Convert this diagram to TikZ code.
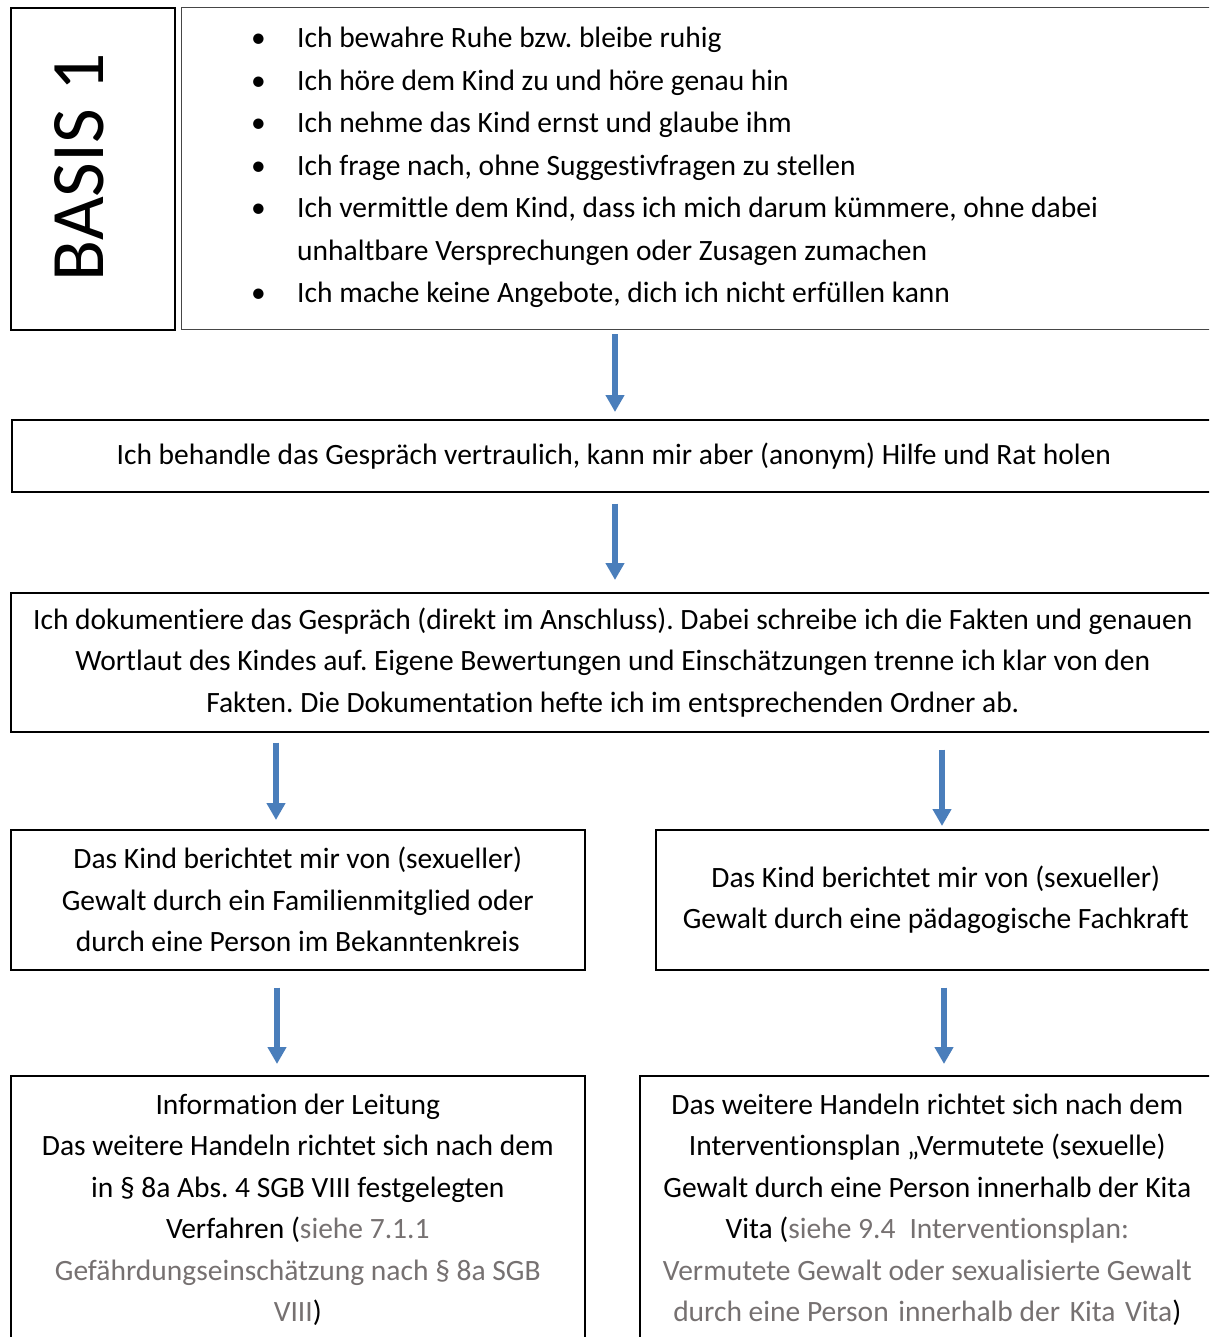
\documentclass[tikz,border=0pt]{standalone}
\usepackage{fontspec}
\setmainfont[RawFeature=-liga]{Carlito}
\usetikzlibrary{arrows.meta}
\definecolor{arrblue}{RGB}{74,126,187}
\definecolor{refgray}{RGB}{118,113,113}
\definecolor{bordgray}{RGB}{70,70,70}
\newcommand{\mainfs}{\fontsize{29.5}{41.5}\selectfont\frenchspacing}
\newcommand{\rg}[1]{\textcolor{refgray}{#1}}
\newcommand{\bl}{\makebox[46pt][l]{•}}
\begin{document}
\begin{tikzpicture}[x=1pt,y=-1pt,
  box/.style={draw=black, line width=1.6pt, inner sep=0pt, anchor=north west, align=center, font=\mainfs},
  arr/.style={draw=arrblue, line width=6pt, -{Triangle[width=18pt,length=17pt]}},
  txt/.style={inner sep=0pt, font=\mainfs}]
\clip (0,0) rectangle (1209,1337);
\fill[white] (0,0) rectangle (1209,1337);
% boxes
\node[box, minimum width=164pt, minimum height=322pt] (basis) at (10,7) {};
\node[txt, rotate=90, anchor=base, font=\fontsize{75.5}{80}\selectfont] (basistxt) at (103,167.5) {BASIS 1};
\node[box, draw=bordgray, line width=1.3pt, minimum width=1034pt, minimum height=322pt] (bul) at (181,7) {};
\node[txt, anchor=north west, align=left, font=\fontsize{29.5}{42.5}\selectfont\frenchspacing] (bultxt) at (251,27) {%
\bl Ich bewahre Ruhe bzw. bleibe ruhig\\
\bl Ich höre dem Kind zu und höre genau hin\\
\bl Ich nehme das Kind ernst und glaube ihm\\
\bl Ich frage nach, ohne Suggestivfragen zu stellen\\
\bl Ich vermittle dem Kind, dass ich mich darum kümmere, ohne dabei\\
\hspace*{46pt}unhaltbare Versprechungen oder Zusagen zumachen\\
\bl Ich mache keine Angebote, dich ich nicht erfüllen kann};
\node[box, minimum width=1204pt, minimum height=72pt] (b2) at (11,419) {Ich behandle das Gespräch vertraulich, kann mir aber (anonym) Hilfe und Rat holen};
\node[box, minimum width=1204pt, minimum height=139pt] (b3) at (10,592) {Ich dokumentiere das Gespräch (direkt im Anschluss). Dabei schreibe ich die Fakten und genauen\\
Wortlaut des Kindes auf. Eigene Bewertungen und Einschätzungen trenne ich klar von den\\
Fakten. Die Dokumentation hefte ich im entsprechenden Ordner ab.};
\node[box, minimum width=574pt, minimum height=140pt] (b4l) at (10,829) {Das Kind berichtet mir von (sexueller)\\
Gewalt durch ein Familienmitglied oder\\
durch eine Person im Bekanntenkreis};
\node[box, minimum width=560pt, minimum height=140pt] (b4r) at (655,829) {Das Kind berichtet mir von (sexueller)\\
Gewalt durch eine pädagogische Fachkraft};
\node[box, minimum width=574pt, minimum height=268pt] (b5l) at (10,1075) {Information der Leitung\\
Das weitere Handeln richtet sich nach dem\\
in § 8a Abs. 4 SGB VIII festgelegten\\
Verfahren (\rg{siehe 7.1.1}\\
\rg{Gefährdungseinschätzung nach § 8a SGB}\\
\rg{VIII})};
\node[box, minimum width=575pt, minimum height=268pt] (b5r) at (639,1075) {Das weitere Handeln richtet sich nach dem\\
Interventionsplan „Vermutete (sexuelle)\\
Gewalt durch eine Person innerhalb der Kita\\
Vita (\rg{siehe 9.4\hspace{14pt}Interventionsplan:}\\
\rg{Vermutete Gewalt oder sexualisierte Gewalt}\\
\rg{durch eine Person\hspace{3pt} innerhalb der\hspace{3pt} Kita\hspace{3pt} Vita})};
% arrow x positions
\coordinate (xa) at (615,0);
\coordinate (xl1) at (276,0);
\coordinate (xr1) at (942,0);
\coordinate (xl2) at (277,0);
\coordinate (xr2) at (944,0);
% arrows
\draw[arr] ([yshift=-4pt]bul.south -| xa) -- ([yshift=7pt]b2.north -| xa);
\draw[arr] ([yshift=-11pt]b2.south -| xa) -- ([yshift=12pt]b3.north -| xa);
\draw[arr] ([yshift=-10pt]b3.south -| xl1) -- ([yshift=9pt]b4l.north -| xl1);
\draw[arr] ([yshift=-17pt]b3.south -| xr1) -- ([yshift=3pt]b4r.north -| xr1);
\draw[arr] ([yshift=-17pt]b4l.south -| xl2) -- ([yshift=11pt]b5l.north -| xl2);
\draw[arr] ([yshift=-17pt]b4r.south -| xr2) -- ([yshift=11pt]b5r.north -| xr2);
\end{tikzpicture}
\end{document}
